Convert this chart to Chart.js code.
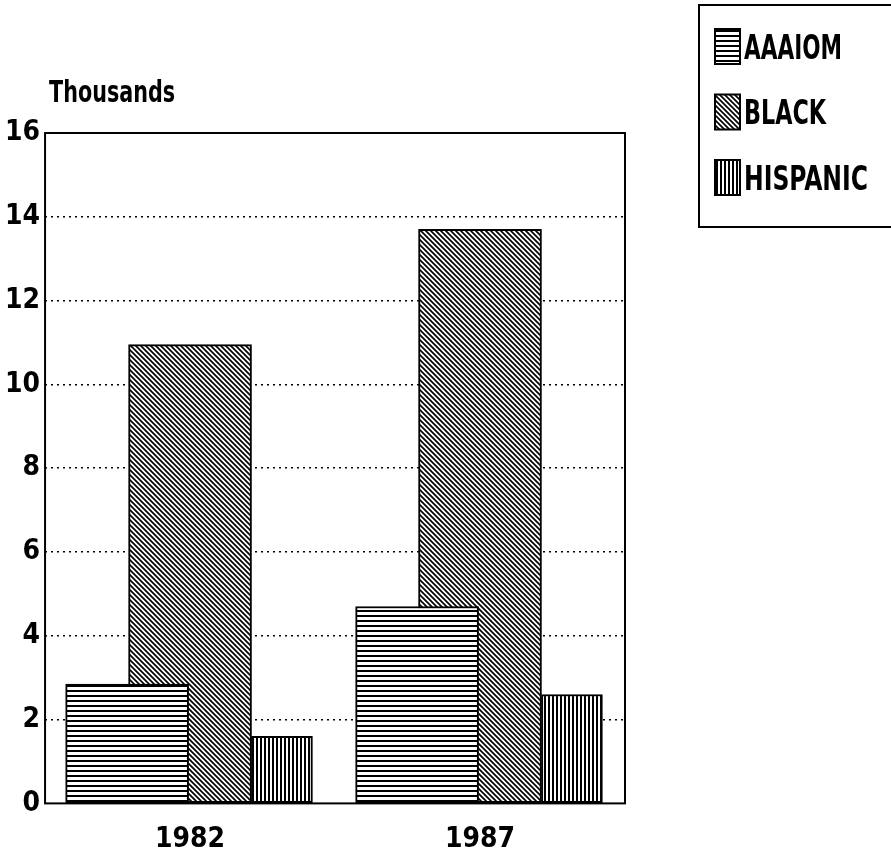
<!DOCTYPE html>
<html>
<head>
<meta charset="utf-8">
<script src="https://cdn.jsdelivr.net/npm/chart.js@4.4.1/dist/chart.umd.min.js"></script>
<style>
  body { margin: 0; background: #fff; }
  canvas { display: block; }
</style>
</head>
<body>
<canvas id="chart" width="891" height="857"></canvas>
<script>
// data (thousands)
const categories = ['1982', '1987'];
const seriesNames = ['AAAIOM', 'BLACK', 'HISPANIC'];
const aaaiomValues = [2.85, 4.7];
const blackValues = [10.95, 13.7];
const hispanicValues = [1.6, 2.6];
const yTicks = [0, 2, 4, 6, 8, 10, 12, 14, 16];

const FONT = "'Liberation Sans Narrow', 'Arial Narrow', 'DejaVu Sans Condensed', sans-serif";

// hatch fills
function makePattern(kind) {
    const size = kind === 'vertical' ? 4 : 5;
    const c = document.createElement('canvas');
    c.width = size;
    c.height = size;
    const g = c.getContext('2d');
    g.fillStyle = '#fff';
    g.fillRect(0, 0, size, size);
    g.fillStyle = '#000';
    g.strokeStyle = '#000';
    if (kind === 'horizontal') {
        g.fillRect(0, 0, size, 2);
    } else if (kind === 'vertical') {
        g.fillRect(0, 0, 2, size);
    } else {
        g.lineWidth = 1.7;
        g.beginPath();
        g.moveTo(0, 0); g.lineTo(size, size);
        g.moveTo(-2, size - 2); g.lineTo(2, size + 2);
        g.moveTo(size - 2, -2); g.lineTo(size + 2, 2);
        g.stroke();
    }
    return g.createPattern(c, 'repeat');
}

// horizontal offset of each series from its category centre (in category units), and bar widths
const seriesOffset = [-0.217, 0, 0.317];
const seriesWidth = [123, 123, 61];
const seriesFill = [makePattern('horizontal'), makePattern('diagonal'), makePattern('vertical')];
const seriesValues = [aaaiomValues, blackValues, hispanicValues];

const datasets = seriesNames.map((name, s) => ({
    label: name,
    data: categories.map((c, i) => ({ x: i + seriesOffset[s], y: seriesValues[s][i] })),
    backgroundColor: seriesFill[s],
    borderColor: '#000',
    borderWidth: 2,
    borderSkipped: false,
    barThickness: seriesWidth[s],
    grouped: false,
    order: name === 'BLACK' ? 2 : 1   // black bars sit behind the others
}));

// box round the plot area, unit label and the boxed legend
const framePlugin = {
    id: 'frame',
    afterDatasetsDraw(chart) {
        const { ctx, chartArea: a } = chart;
        ctx.save();
        ctx.strokeStyle = '#000';
        ctx.lineWidth = 2;
        ctx.strokeRect(a.left, a.top, a.right - a.left, a.bottom - a.top);
        ctx.fillStyle = '#000';
        ctx.font = 'bold 31px ' + FONT;
        ctx.textBaseline = 'alphabetic';
        ctx.fillText('Thousands', a.left + 4, a.top - 31, 126);
        ctx.restore();
    },
    afterDraw(chart) {
        const ctx = chart.ctx;
        const widths = [98, 82, 124];
        ctx.save();
        ctx.strokeStyle = '#000';
        ctx.lineWidth = 2;
        ctx.strokeRect(699, 5, 240, 222);
        ctx.font = 'bold 34px ' + FONT;
        ctx.textBaseline = 'middle';
        chart.data.datasets.forEach((ds, i) => {
            const cy = 46 + i * 65.5;
            ctx.fillStyle = ds.backgroundColor;
            ctx.fillRect(715, cy - 17, 25, 35);
            ctx.strokeRect(715, cy - 17, 25, 35);
            ctx.fillStyle = '#000';
            ctx.fillText(ds.label, 744, cy + 4, widths[i]);
        });
        ctx.restore();
    }
};

const ctx = document.getElementById('chart').getContext('2d');
const chart = new Chart(ctx, {
    type: 'bar',
    data: { datasets: datasets },
    options: {
        responsive: false,
        animation: false,
        events: [],
        layout: { padding: { top: 133, left: 0, right: 266, bottom: -12 } },
        plugins: {
            legend: { display: false },
            tooltip: { enabled: false }
        },
        scales: {
            x: {
                type: 'linear',
                offset: false,
                min: -0.5,
                max: categories.length - 0.5,
                afterBuildTicks: (axis) => {
                    axis.ticks = categories.map((c, i) => ({ value: i }));
                },
                ticks: {
                    callback: (v) => categories[v],
                    color: '#000',
                    padding: 12,
                    font: { family: FONT, size: 28, weight: 'bold' }
                },
                grid: { display: false },
                border: { display: false }
            },
            y: {
                min: 0,
                max: 16,
                afterBuildTicks: (axis) => {
                    axis.ticks = yTicks.map(v => ({ value: v }));
                },
                ticks: {
                    color: '#000',
                    padding: 5,
                    font: { family: FONT, size: 28, weight: 'bold' }
                },
                grid: {
                    drawTicks: false,
                    lineWidth: 1.5,
                    color: (c) => (c.tick && (c.tick.value === 0 || c.tick.value === 16)) ? 'rgba(0,0,0,0)' : '#000'
                },
                border: { display: false, dash: [2, 4] }
            }
        }
    },
    plugins: [framePlugin]
});
</script>
</body>
</html>
